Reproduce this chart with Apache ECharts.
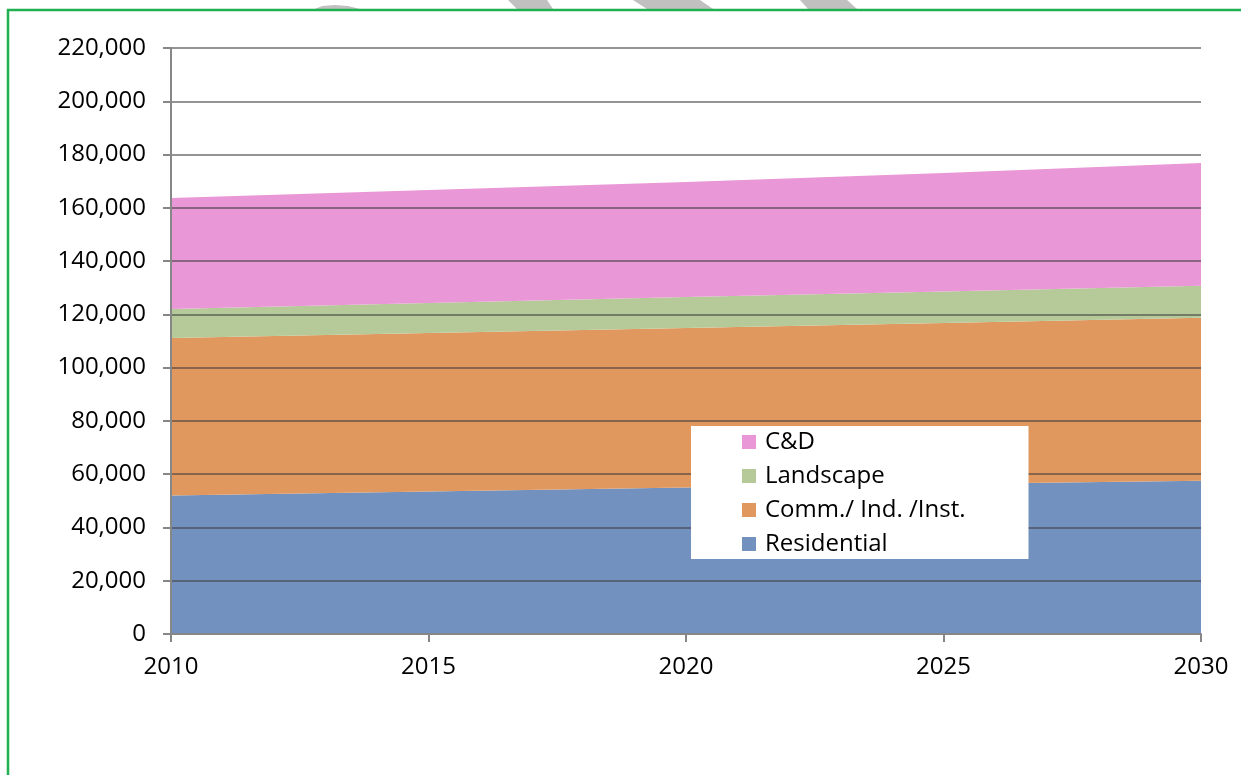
<!DOCTYPE html>
<html>
<head>
<meta charset="utf-8">
<script src="https://cdn.jsdelivr.net/npm/echarts@6/dist/echarts.min.js"></script>
<style>html,body{margin:0;padding:0;background:#fff;}#c{width:1241px;height:775px;}</style>
</head>
<body>
<div id="c"></div>
<script>
const years = ['2010', '2015', '2020', '2025', '2030'];
const residential = [52000, 53500, 55000, 56300, 57500];
const commIndInst = [59100, 59500, 59900, 60500, 61200];
const landscape = [10900, 11300, 11600, 11800, 12000];
const cAndD = [41700, 42400, 43200, 44500, 46100];
const seriesNames = ['Residential', 'Comm./ Ind. /Inst.', 'Landscape', 'C&D'];
const legendOrder = ['C&D', 'Landscape', 'Comm./ Ind. /Inst.', 'Residential'];
const yTicks = {min: 0, max: 220000, interval: 20000};

const colors = ['#7391bf', '#e0985f', '#b6c999', '#e997d6'];
const values = [residential, commIndInst, landscape, cAndD];
const font = "'Open Sans', 'Liberation Sans', sans-serif";

const chart = echarts.init(document.getElementById('c'), null, {renderer: 'canvas'});
chart.setOption({
  animation: false,
  backgroundColor: '#ffffff',
  textStyle: {fontFamily: font},
  grid: {left: 171, right: 40, top: 48, bottom: 141, containLabel: false},
  xAxis: {
    type: 'category', data: years, boundaryGap: false,
    z: 5,
    axisLine: {show: true, lineStyle: {color: '#878787', width: 2}},
    axisTick: {show: true, length: 8, alignWithLabel: true, lineStyle: {color: '#878787', width: 2}},
    axisLabel: {color: '#000', fontSize: 24, margin: 21, fontFamily: font},
    splitLine: {show: false}
  },
  yAxis: {
    type: 'value', min: yTicks.min, max: yTicks.max, interval: yTicks.interval,
    z: 5,
    axisLine: {show: true, lineStyle: {color: '#878787', width: 2}},
    axisTick: {show: true, length: 8, lineStyle: {color: '#878787', width: 2}},
    axisLabel: {color: '#000', fontSize: 24, margin: 25, fontFamily: font,
      formatter: v => v.toLocaleString('en-US')},
    splitLine: {show: true, lineStyle: {color: 'rgba(60,60,60,0.55)', width: 2}}
  },
  legend: {
    data: legendOrder,
    orient: 'vertical',
    left: 691, top: 426,
    z: 10,
    backgroundColor: '#ffffff',
    padding: [4, 63, 3, 51],
    itemWidth: 14, itemHeight: 14, itemGap: 10,
    icon: 'rect',
    textStyle: {color: '#000', fontSize: 24, lineHeight: 22, fontFamily: font, padding: [0, 0, 0, 4]}
  },
  graphic: [
    {type: 'rect', z: 100, silent: true,
      shape: {x: 8, y: 10, width: 1260, height: 800},
      style: {fill: 'none', stroke: '#1fb050', lineWidth: 2.5}},
    {type: 'polygon', z: 1, silent: true, shape: {points: [[508,0],[547,0],[553,9],[517,9]]}, style: {fill: '#c0c0c0'}},
    {type: 'polygon', z: 1, silent: true, shape: {points: [[633,0],[700,0],[713,9],[647,9]]}, style: {fill: '#c0c0c0'}},
    {type: 'polygon', z: 1, silent: true, shape: {points: [[800,0],[847,0],[857,9],[808,9]]}, style: {fill: '#c0c0c0'}},
    {type: 'polygon', z: 1, silent: true, shape: {points: [[315,9],[322,6],[335,5],[348,6],[360,9]]}, style: {fill: '#c0c0c0'}}
  ],
  series: seriesNames.map((name, i) => ({
    name: name,
    type: 'line',
    stack: 'total',
    symbol: 'none',
    lineStyle: {width: 0},
    itemStyle: {color: colors[i]},
    areaStyle: {color: colors[i], opacity: 1},
    data: values[i]
  }))
});
</script>
</body>
</html>
